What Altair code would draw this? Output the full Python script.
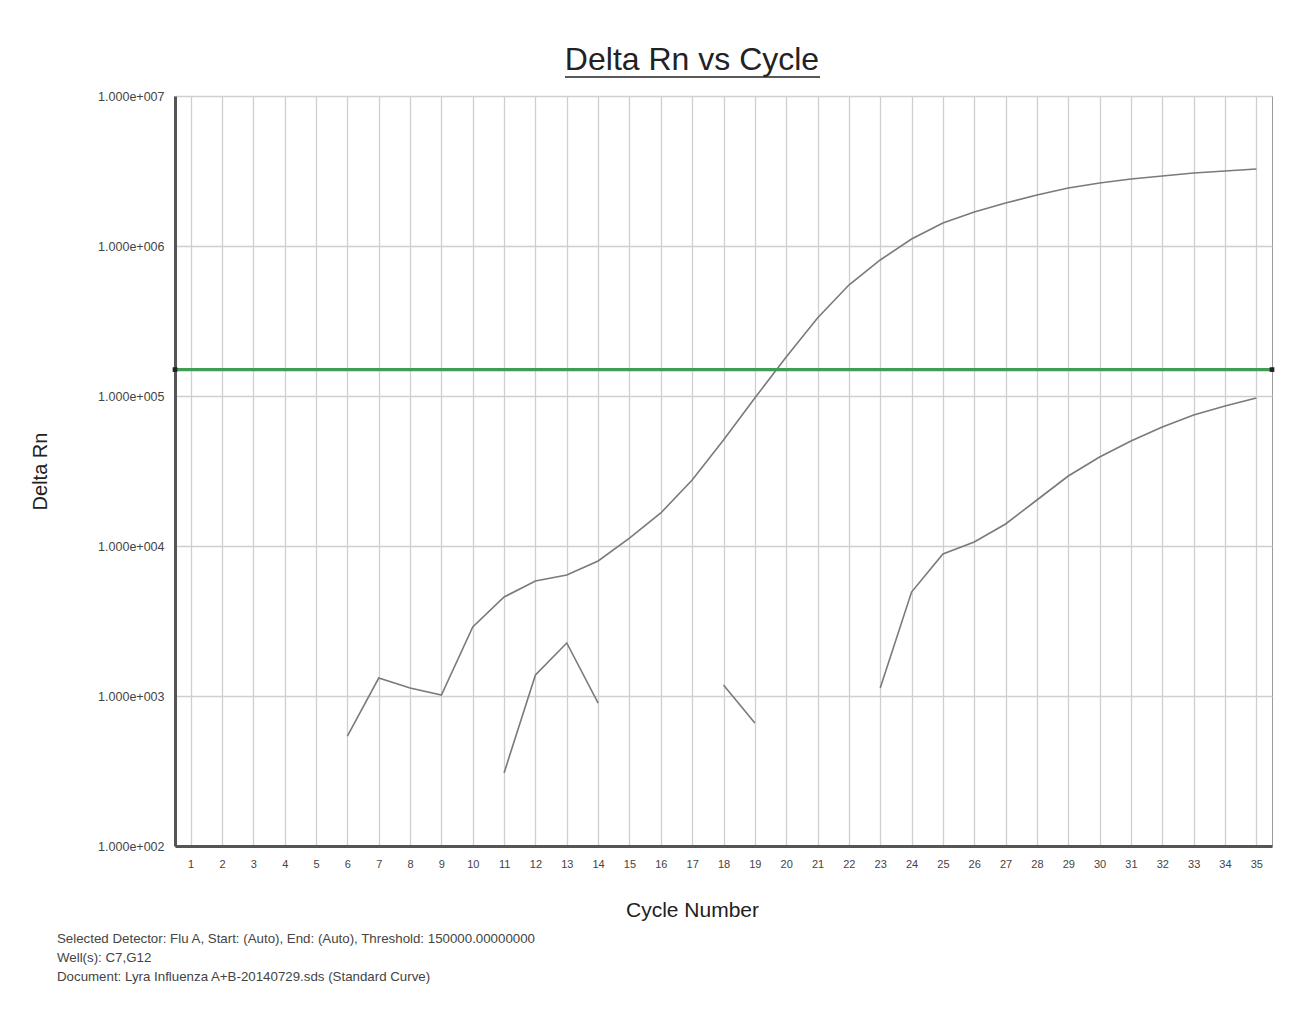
import altair as alt
import pandas as pd

# ---- data ----
cycles = list(range(1, 36))
well_c7 = [None, None, None, None, None,
           541, 1318, 1130, 1016, 2884, 4571, 5843, 6406, 7943, 11300,
           16600, 27540, 50900, 97000, 182000, 331000, 549500, 807000, 1113000, 1424000,
           1686000, 1936000, 2188000, 2436000, 2630000, 2797000, 2929000, 3067000, 3162000, 3261000]
well_g12 = [None] * 10 + [307, 1380, 2256, 898] + [None] * 3 + [1184, 661] + [None] * 3 + \
           [1130, 4933, 8845, 10630, 14020, 20260, 29290, 39200, 50120, 62130, 74690, 85770, 97000]
wells = ["C7", "G12"]
threshold = 150000
x_ends = [0.5, 35.5]
y_ticks = [1e2, 1e3, 1e4, 1e5, 1e6, 1e7]

title_text = "Delta Rn vs Cycle"
footnote = ("Selected Detector: Flu A, Start: (Auto), End: (Auto), Threshold: 150000.00000000\n"
            "Well(s): C7,G12\n"
            "Document: Lyra Influenza A+B-20140729.sds (Standard Curve)")

FONT = "Liberation Sans, Arial, sans-serif"

rows = []
for well, vals in zip(wells, [well_c7, well_g12]):
    seg = 0
    prev = None
    for c, v in zip(cycles, vals):
        if v is None:
            prev = None
            continue
        if prev is None:
            seg += 1
        rows.append({"cycle": c, "value": v, "segment": f"{well}-{seg}"})
        prev = v
df = pd.DataFrame(rows)

thr_df = pd.DataFrame({"cycle": x_ends, "value": [threshold] * len(x_ends)})

x_enc = alt.X("cycle:Q",
              scale=alt.Scale(domain=[0.5, 35.5], nice=False, zero=False),
              axis=alt.Axis(values=cycles, tickCount=35, format="d", grid=True,
                            gridColor="#cfcfcf",
                            gridWidth=1.3, ticks=False, domainColor="#555", domainWidth=3,
                            labelOverlap=False, labelBound=False,
                            labelPadding=12, labelFontSize=11, labelColor="#444",
                            labelFont=FONT, title="Cycle Number", titleFont=FONT,
                            titleFontSize=21, titleFontWeight="normal", titleColor="#222",
                            titleX=517, titleY=64, titleBaseline="middle", titleAlign="center"))
y_enc = alt.Y("value:Q",
              scale=alt.Scale(type="log", domain=[100, 1e7], nice=False),
              axis=alt.Axis(values=y_ticks,
                            labelExpr="'1.000e+00' + round(log(datum.value)/LN10)",
                            grid=True, gridColor="#cfcfcf", gridWidth=1.3, ticks=False,
                            domainColor="#555", domainWidth=3, labelPadding=11,
                            labelOverlap=False, labelBound=False,
                            labelFontSize=12.5, labelColor="#444", labelFont=FONT,
                            title="Delta Rn", titleFont=FONT, titleFontSize=20,
                            titleFontWeight="normal", titleColor="#222",
                            titleX=-135, titleY=375, titleAngle=270,
                            titleBaseline="middle", titleAlign="center"))

lines = alt.Chart(df).mark_line(color="#7a7a7a", strokeWidth=1.6).encode(
    x=x_enc, y=y_enc, detail="segment:N")

thr_line = alt.Chart(thr_df).mark_line(color="#3f9d55", strokeWidth=3.2).encode(
    x=x_enc, y=y_enc)
thr_pts = alt.Chart(thr_df).mark_square(color="#222", size=22, opacity=1).encode(
    x=x_enc, y=y_enc)

one = pd.DataFrame({"a": [0]})
title = alt.Chart(one).mark_text(fontSize=32, font=FONT, color="#222", align="center",
                                 baseline="alphabetic").encode(
    x=alt.value(517), y=alt.value(-26), text=alt.value(title_text))
underline = alt.Chart(one).mark_rule(color="#222", strokeWidth=1.5).encode(
    x=alt.value(390), x2=alt.value(645), y=alt.value(-19))
foot = alt.Chart(one).mark_text(fontSize=13.3, font=FONT, color="#444", align="left",
                                baseline="top", lineBreak="\n", lineHeight=19).encode(
    x=alt.value(-118), y=alt.value(836), text=alt.value(footnote))

chart = alt.layer(lines, thr_line, thr_pts, title, underline, foot).properties(
    width=1097, height=750,
    autosize=alt.AutoSizeParams(type="none"),
    padding={"left": 167, "top": 88, "right": 25, "bottom": 166},
    background="white",
).configure_view(stroke="#9a9a9a", strokeWidth=1)

chart.save("out.html", embed_options={"renderer": "svg", "actions": False})
